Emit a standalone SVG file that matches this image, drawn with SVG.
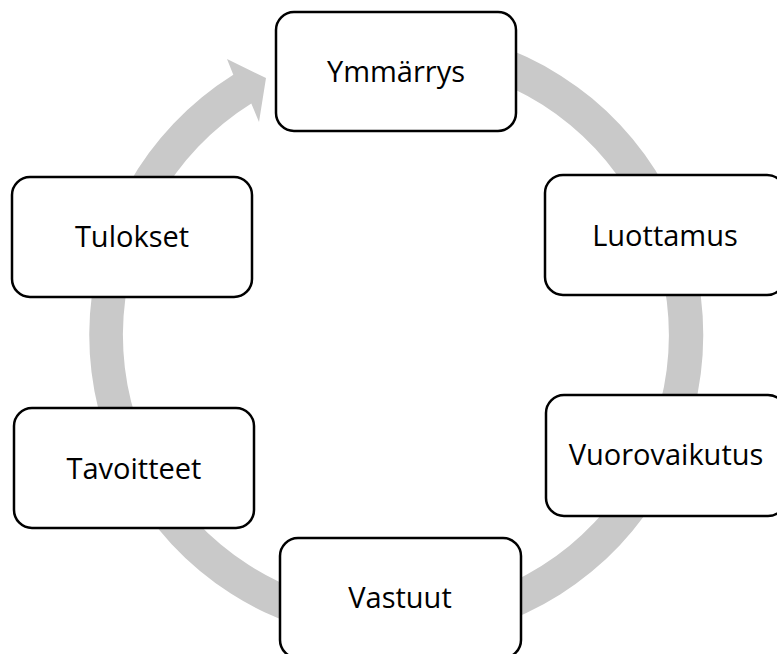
<svg xmlns="http://www.w3.org/2000/svg" width="777" height="654" viewBox="0 0 777 654">
<style>
.node rect{fill:#ffffff;stroke:#000000;stroke-width:2.5}
.node text{font-family:"Open Sans","Liberation Sans",sans-serif;font-size:29px;fill:#000000;text-anchor:middle}
.ring{fill:#c9c9c9;stroke:none}
</style>
<rect width="777" height="654" fill="#ffffff"/>
<g id="connectors">
<path class="ring" d="M 301.1 43.0 A 307 307 0 1 1 233.3 74.7 L 227 59 L 266 78 L 259 122 L 251.3 103.5 A 273 273 0 1 0 311.6 75.4 Z"/>
</g>
<g id="node-ymmarrys" class="node">
<rect x="276" y="12" width="240" height="119" rx="18"/>
<text x="396" y="82">Ymmärrys</text>
</g>
<g id="node-luottamus" class="node">
<rect x="545" y="175" width="240" height="120" rx="18"/>
<text x="665" y="246">Luottamus</text>
</g>
<g id="node-vuorovaikutus" class="node">
<rect x="546" y="395" width="240" height="121" rx="18"/>
<text x="666" y="465">Vuorovaikutus</text>
</g>
<g id="node-vastuut" class="node">
<rect x="280" y="538" width="241" height="120" rx="18"/>
<text x="400" y="608">Vastuut</text>
</g>
<g id="node-tavoitteet" class="node">
<rect x="14" y="408" width="240" height="120" rx="18"/>
<text x="134" y="479">Tavoitteet</text>
</g>
<g id="node-tulokset" class="node">
<rect x="12" y="177" width="240" height="120" rx="18"/>
<text x="132" y="247">Tulokset</text>
</g>
</svg>
